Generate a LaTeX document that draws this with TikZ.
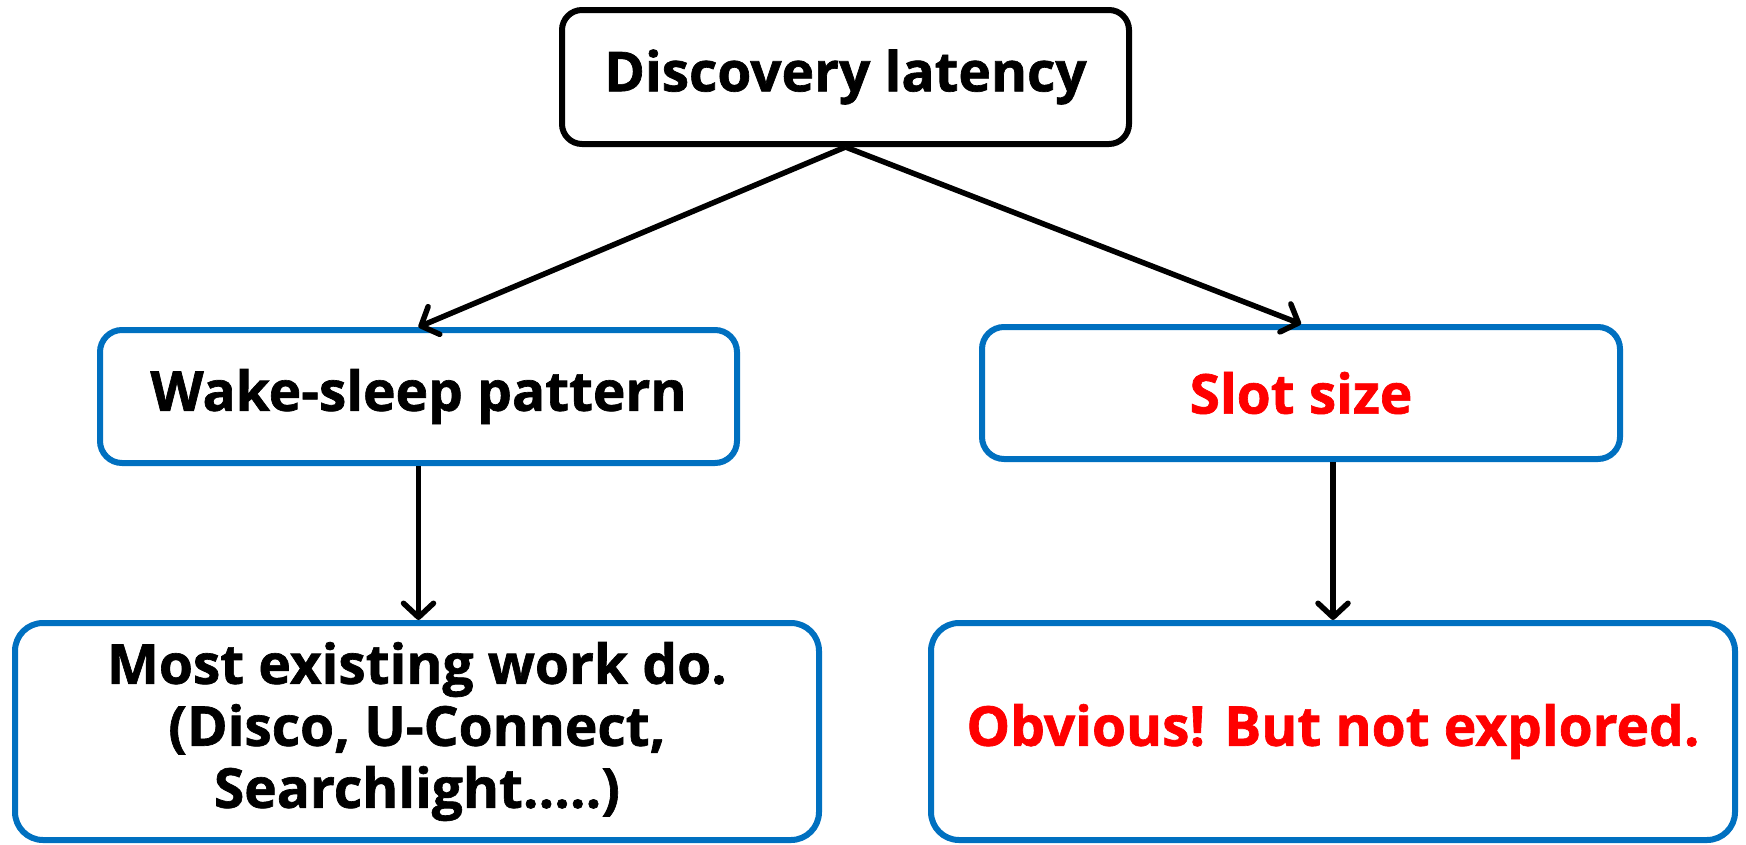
\documentclass[tikz,border=0pt]{standalone}
\usepackage{fontspec}
\setmainfont{Open Sans}[BoldFeatures={FakeBold=1.2}]
\usetikzlibrary{arrows.meta}
\definecolor{frameblue}{HTML}{0070C0}
\definecolor{alertred}{HTML}{FF0000}
\begin{document}
\begin{tikzpicture}[x=1pt,y=-1pt,
  every node/.style={font=\fontsize{55}{62}\selectfont\bfseries, inner sep=0pt, align=center},
  headbox/.style={draw=black, line width=6pt, rounded corners=20pt},
  bluebox/.style={draw=frameblue, line width=6pt, rounded corners=22pt},
  bigbox/.style={bluebox, rounded corners=28pt},
  link/.style={draw=black, line width=5.5pt, -{Straight Barb[length=14pt,width=30pt,round]}}]
\useasboundingbox[fill=white] (0,0) rectangle (1746,844);

% root of the tree
\node[headbox, minimum width=567pt, minimum height=134pt] (lat) at (845.5,77) {Discovery latency};

% second level
\node[bluebox, minimum width=637pt, minimum height=133pt] (wake) at (418.5,396.5) {Wake-sleep pattern};
\node[bluebox, minimum width=638pt, minimum height=132pt, text=alertred] (slot) at (1301,393) {Slot size};

% third level
\node[bigbox, minimum width=804pt, minimum height=217pt] (most) at (417,731.5)
  {Most existing work do.\\(Disco, U-Connect,\\Searchlight.....)};
\node[bigbox, minimum width=804pt, minimum height=217pt, text=alertred] (obv) at (1333,731.5)
  {Obvious! But not explored.};

% connectors
\draw[link] (lat.south) -- (wake.north);
\draw[link] (lat.south) -- (slot.north);
\draw[link] (wake.south) -- (wake.south |- most.north);
\draw[link] (slot.south -| obv.north) -- (obv.north);
\end{tikzpicture}
\end{document}
